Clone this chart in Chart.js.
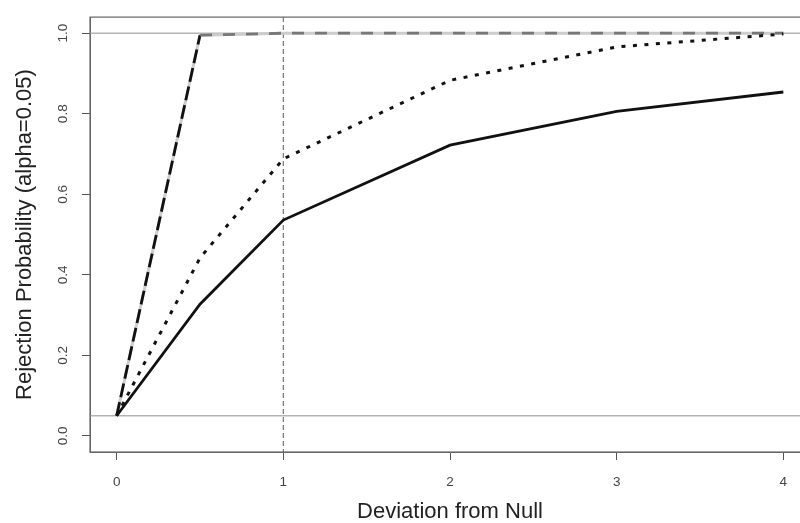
<!DOCTYPE html>
<html>
<head>
<meta charset="utf-8">
<script src="https://cdn.jsdelivr.net/npm/chart.js@4.4.1/dist/chart.umd.min.js"></script>
<style>
  html, body { margin: 0; padding: 0; background: #fff; overflow: hidden; }
  #wrap { width: 820px; height: 523px; position: relative; }
</style>
</head>
<body>
<div id="wrap"><canvas id="power"></canvas></div>
<script>
// values
var deviation   = [0, 0.5, 1, 2, 3, 4];
var powerSolid  = [0.05, 0.327, 0.536, 0.722, 0.806, 0.854];
var powerDotted = [0.05, 0.442, 0.688, 0.883, 0.966, 0.998];
var powerDashed = [0.05, 0.995, 1.0, 1.0, 1.0, 1.0];

var xTicks = [0, 1, 2, 3, 4];
var yTicks = [0, 0.2, 0.4, 0.6, 0.8, 1.0];
var refLevels = [0.05, 1.0];   // horizontal reference lines
var refDeviation = [1];        // vertical dashed line

function pts(ys) {
    return deviation.map(function (x, i) { return {x: x, y: ys[i]}; });
}

var FONT = "'Liberation Sans', Arial, Helvetica, sans-serif";

// frame + reference lines, placed through the chart's scales
var refLines = {
    id: 'refLines',
    beforeDatasetsDraw: function (chart) {
        var ctx = chart.ctx, a = chart.chartArea;
        var xs = chart.scales.x, ys = chart.scales.y;
        ctx.save();
        ctx.strokeStyle = '#b4b4b4';
        ctx.lineWidth = 1.5;
        refLevels.forEach(function (v) {
            var py = ys.getPixelForValue(v);
            ctx.beginPath(); ctx.moveTo(a.left, py); ctx.lineTo(a.right, py); ctx.stroke();
        });
        ctx.strokeStyle = '#777777';
        ctx.lineWidth = 1.2;
        ctx.setLineDash([5, 3]);
        refDeviation.forEach(function (v) {
            var px = xs.getPixelForValue(v);
            ctx.beginPath(); ctx.moveTo(px, a.top); ctx.lineTo(px, a.bottom); ctx.stroke();
        });
        ctx.restore();
    },
    afterDraw: function (chart) {
        var ctx = chart.ctx, a = chart.chartArea;
        ctx.save();
        ctx.strokeStyle = '#666666';
        ctx.lineWidth = 1.2;
        ctx.strokeRect(a.left, a.top, a.right - a.left, a.bottom - a.top);
        ctx.restore();
    }
};

var ctx = document.getElementById('power');
var myChart = new Chart(ctx, {
    type: 'line',
    data: {
        datasets: [{
            label: 'solid',
            data: pts(powerSolid),
            borderColor: '#111111',
            borderWidth: 2.8,
            order: 1
        }, {
            label: 'dotted',
            data: pts(powerDotted),
            borderColor: '#111111',
            borderWidth: 3,
            borderDash: [4, 7.5],
            order: 2
        }, {
            label: 'dashed',
            data: pts(powerDashed),
            borderWidth: 2.8,
            segment: {
                borderColor: function (c) { return c.p0.parsed.x < 0.5 ? '#111111' : '#777777'; },
                borderDash: function (c) { return c.p0.parsed.x < 0.5 ? [14, 5] : [12, 11]; }
            },
            order: 3
        }, {
            label: 'dashed-under',
            data: pts(powerDashed),
            borderColor: '#cccccc',
            borderWidth: 3,
            order: 10
        }]
    },
    options: {
        responsive: true,
        maintainAspectRatio: false,
        animation: false,
        layout: { padding: { top: 11, right: 10, left: 0, bottom: 0 } },
        elements: {
            point: { radius: 0 },
            line: { tension: 0, borderCapStyle: 'butt' }
        },
        plugins: {
            legend: { display: false },
            tooltip: { enabled: false }
        },
        scales: {
            x: {
                type: 'linear',
                min: -0.16,
                max: 4.16,
                afterBuildTicks: function (s) { s.ticks = xTicks.map(function (v) { return {value: v}; }); },
                afterFit: function (s) { s.height = 71; },
                grid: { drawOnChartArea: false, tickLength: 8, color: '#555555' },
                border: { display: true, color: '#666666' },
                ticks: {
                    color: '#444444',
                    padding: 14,
                    maxRotation: 0,
                    font: { family: FONT, size: 13.5 },
                    callback: function (v) { return String(v); }
                },
                title: {
                    display: true,
                    text: 'Deviation from Null',
                    color: '#222222',
                    padding: { top: 0, bottom: 0 },
                    font: { family: FONT, size: 22, lineHeight: 1 }
                }
            },
            y: {
                type: 'linear',
                min: -0.04,
                max: 1.04,
                afterBuildTicks: function (s) { s.ticks = yTicks.map(function (v) { return {value: v}; }); },
                afterFit: function (s) { s.width = 90; },
                grid: { drawOnChartArea: false, tickLength: 8, color: '#555555' },
                border: { display: true, color: '#666666' },
                ticks: {
                    color: '#444444',
                    padding: 9,
                    minRotation: 90,
                    maxRotation: 90,
                    crossAlign: 'center',
                    font: { family: FONT, size: 13.5 },
                    callback: function (v) { return Number(v).toFixed(1); }
                },
                title: {
                    display: true,
                    text: 'Rejection Probability (alpha=0.05)',
                    color: '#222222',
                    padding: { top: 14, bottom: 0 },
                    font: { family: FONT, size: 22, lineHeight: 1 }
                }
            }
        }
    },
    plugins: [refLines]
});
</script>
</body>
</html>
